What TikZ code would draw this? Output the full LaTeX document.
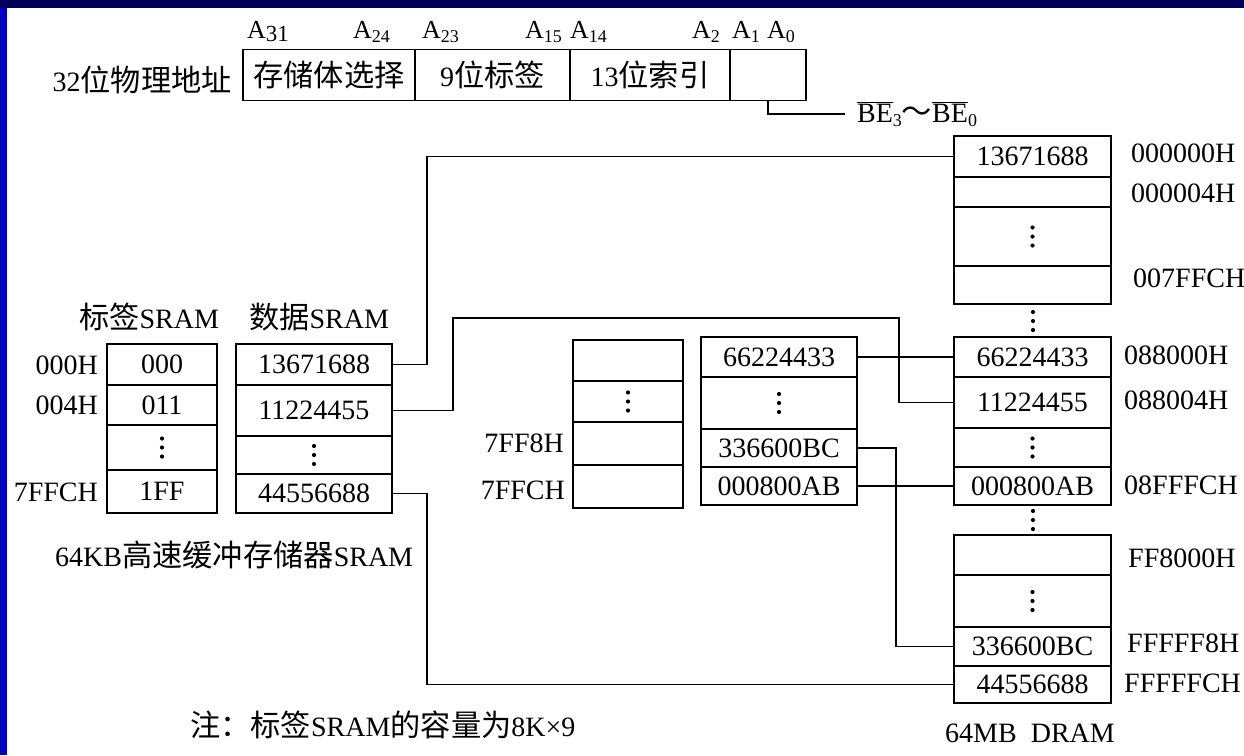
\documentclass[tikz,border=0pt]{standalone}
\usepackage{fontspec}
\setmainfont{Liberation Serif}
\newfontfamily\cjk{Noto Sans CJK SC}[Scale=1.08]
\definecolor{topnavy}{HTML}{00005A}
\definecolor{sideblue}{HTML}{0000C0}
\newcommand\fs{\fontsize{28}{32}\selectfont}
\newcommand\fa{\fontsize{26}{30}\selectfont}
\newcommand\sub[1]{\raisebox{-4pt}{\fontsize{18}{18}\selectfont #1}}
\newcommand\mycell[6]{\node[cell, minimum width=#4pt, minimum height=#5pt] (#1) at (#2,#3) {#6};}
\newcommand\vdd[1]{\foreach \dy in {-9,0,9} {\fill ([yshift=\dy pt]#1) circle (2.1pt);}}
\tikzset{
  cell/.style={draw, line width=1.7pt, inner sep=0pt, font=\fs},
  lab/.style={inner sep=0pt, font=\fs},
  alab/.style={inner sep=0pt, font=\fa, anchor=base west},
  wire/.style={line width=1.4pt}
}
\begin{document}
\begin{tikzpicture}[x=1pt,y=-1pt]
\useasboundingbox (0,0) rectangle (1244,755);
\fill[white] (0,0) rectangle (1244,755);
\fill[sideblue] (0,0) rectangle (7,755);
\fill[topnavy] (0,0) rectangle (1244,8);

% address bar
\node[lab, anchor=east] (addrlab) at (232,80) {32{\cjk 位物理地址}};
\mycell{a1}{329}{75}{172}{51}{\cjk 存储体选择}
\mycell{a2}{492.5}{75}{155}{51}{9{\cjk 位标签}}
\mycell{a3}{650}{75}{160}{51}{13{\cjk 位索引}}
\mycell{a4}{768}{75}{76}{51}{}
\node[alab] (b31) at (247,38) {A\raisebox{-3pt}{\fontsize{23}{23}\selectfont 31}};
\node[alab] (b24) at (353,38) {A\sub{24}};
\node[alab] (b23) at (422,38) {A\sub{23}};
\node[alab] (b15) at (525,38) {A\sub{15}};
\node[alab] (b14) at (570,38) {A\sub{14}};
\node[alab] (b2) at (692,38) {A\sub{2}};
\node[alab] (b1) at (732,38) {A\sub{1}};
\node[alab] (b0) at (767,38) {A\sub{0}};
\coordinate (k6) at (845,114);
\draw[wire] (a4.south) |- (k6);
\node[lab, anchor=west] (be) at (857,114) {$\overline{\hbox{BE}}$\sub{3}{\cjk ～}$\overline{\hbox{BE}}$\sub{0}};

% tag SRAM
\node[lab] (taghead) at (149,317) {{\cjk 标签}SRAM};
\mycell{t1}{162}{364.5}{110}{41}{000}
\mycell{t2}{162}{405}{110}{40}{011}
\mycell{t3}{162}{447.5}{110}{45}{}
\mycell{t4}{162}{491.5}{110}{43}{1FF}
\vdd{t3.center}
\node[lab, anchor=east] (tl1) at (98,365) {000H};
\node[lab, anchor=east] (tl2) at (98,405) {004H};
\node[lab, anchor=east] (tl4) at (98,492) {7FFCH};

% data SRAM
\node[lab] (datahead) at (319,317) {{\cjk 数据}SRAM};
\mycell{d1}{314}{364.5}{156}{41}{13671688}
\mycell{d2}{314}{410.5}{156}{51}{11224455}
\mycell{d3}{314}{455}{156}{38}{}
\mycell{d4}{314}{493.5}{156}{39}{44556688}
\vdd{d3.center}
\node[lab, anchor=west] (cachelab) at (55,555) {64KB{\cjk 高速缓冲存储器}SRAM};

% middle tables
\mycell{m1}{628}{360.5}{110}{41}{}
\mycell{m2}{628}{401.5}{110}{41}{}
\mycell{m3}{628}{443.5}{110}{43}{}
\mycell{m4}{628}{486.5}{110}{43}{}
\vdd{m2.center}
\node[lab, anchor=east] (ml3) at (564,443) {7FF8H};
\node[lab, anchor=east] (ml4) at (565,490) {7FFCH};

\mycell{n1}{779}{357}{156}{40}{66224433}
\mycell{n2}{779}{403}{156}{52}{}
\mycell{n3}{779}{448}{156}{38}{336600BC}
\mycell{n4}{779}{486}{156}{38}{000800AB}
\vdd{n2.center}

% DRAM block 1
\mycell{r1a}{1032.5}{156.5}{157}{41}{13671688}
\mycell{r1b}{1032.5}{192}{157}{30}{}
\mycell{r1c}{1032.5}{236.5}{157}{59}{}
\mycell{r1d}{1032.5}{285}{157}{38}{}
\vdd{r1c.center}
\coordinate (g1) at (1033,321);
\vdd{g1}
% DRAM block 2
\mycell{r2a}{1032.5}{357}{157}{40}{66224433}
\mycell{r2b}{1032.5}{402.5}{157}{51}{11224455}
\mycell{r2c}{1032.5}{447.5}{157}{39}{}
\mycell{r2d}{1032.5}{486}{157}{38}{000800AB}
\vdd{r2c.center}
\coordinate (g2) at (1033,520);
\vdd{g2}
% DRAM block 3
\mycell{r3a}{1032.5}{555}{157}{40}{}
\mycell{r3b}{1032.5}{601}{157}{52}{}
\mycell{r3c}{1032.5}{646.5}{157}{39}{336600BC}
\mycell{r3d}{1032.5}{684.5}{157}{37}{44556688}
\vdd{r3b.center}

\node[lab, anchor=west] (ra1) at (1131,153) {000000H};
\node[lab, anchor=west] (ra2) at (1131,193) {000004H};
\node[lab, anchor=west] (ra3) at (1133,278) {007FFCH};
\node[lab, anchor=west] (ra4) at (1124,355) {088000H};
\node[lab, anchor=west] (ra5) at (1124,400) {088004H};
\node[lab, anchor=west] (ra6) at (1124,485) {08FFFCH};
\node[lab, anchor=west] (ra7) at (1128,558) {FF8000H};
\node[lab, anchor=west] (ra8) at (1127,643) {FFFFF8H};
\node[lab, anchor=west] (ra9) at (1124,683) {FFFFFCH};
\node[lab] (dramlab) at (1030,733) {64MB\hspace{0.5em}DRAM};

\node[lab, anchor=west] (note) at (190,725) {{\cjk 注：标签}SRAM{\cjk 的容量为}8K×9};

% connectors
\coordinate (k1) at (427,156.5);
\draw[wire] (d1.east) -| (k1) -- (r1a.west);
\coordinate (k2) at (453,318);
\coordinate (k3) at (899,318);
\draw[wire] (d2.east) -| (k2) -- (k3) |- (r2b.west);
\coordinate (k4) at (427,684.5);
\draw[wire] (d4.east) -| (k4) -- (r3d.west);
\draw[wire] (n1.east) -- (r2a.west);
\coordinate (k5) at (896,448);
\draw[wire] (n3.east) -| (k5) |- (r3c.west);
\draw[wire] (n4.east) -- (r2d.west);
\end{tikzpicture}
\end{document}
